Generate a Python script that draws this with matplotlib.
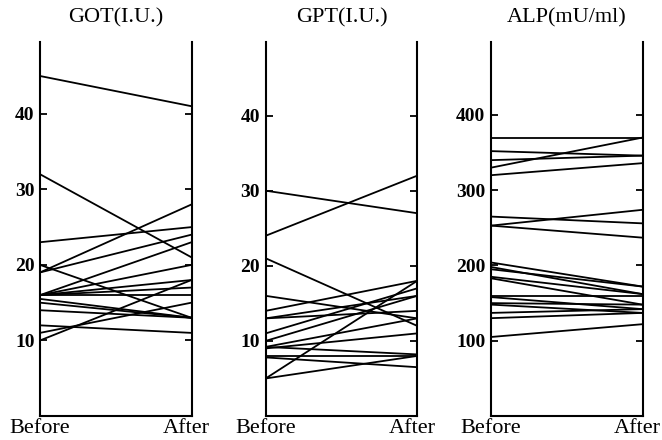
import matplotlib
matplotlib.use("Agg")
import matplotlib.pyplot as plt
import matplotlib.transforms as mtransforms

titles = ["GOT(I.U.)", "GPT(I.U.)", "ALP(mU/ml)"]
x_labels = ["Before", "After"]

got_before = [45, 32, 23, 19, 19, 20, 16, 16, 16, 16, 16, 15.5, 15, 14, 12, 11, 10]
got_after = [41, 21, 25, 28, 24, 13, 23, 20, 18, 17, 16, 13, 13, 13, 11, 15, 18]

gpt_before = [30, 24, 21, 16, 14, 13, 13, 11, 10, 9.2, 9, 9.2, 8, 7.8, 5, 5]
gpt_after = [27, 32, 12, 13, 18, 16, 14, 17, 16, 13, 11, 8.2, 8, 6.5, 18, 8]

alp_before = [370, 330, 352, 340, 320, 265, 253, 253, 204, 198, 195, 185, 183,
              160, 158, 150, 148, 137, 130, 105]
alp_after = [370, 370, 346, 346, 336, 256, 274, 237, 172, 162, 172, 162, 148,
             160, 142, 148, 137, 142, 137, 122]

got_ticks = [10, 20, 30, 40]
gpt_ticks = [10, 20, 30, 40]
alp_ticks = [100, 200, 300, 400]

panels = [
    (got_before, got_after, got_ticks, 49.5),
    (gpt_before, gpt_after, gpt_ticks, 49.8),
    (alp_before, alp_after, alp_ticks, 497),
]

W, H = 662, 440
fig = plt.figure(figsize=(W / 100, H / 100), dpi=100)
lefts = [40, 265.7, 491]
width = 151.5
bottom = 416
top = 42
serif = "Liberation Serif"

for (before, after, ticks, ytop), left, title in zip(panels, lefts, titles):
    ax = fig.add_axes([left / W, (H - bottom) / H, width / W, (bottom - top) / H])
    for b, a in zip(before, after):
        ax.plot([0, 1], [b, a], color="black", lw=1.3, solid_capstyle="butt")
    ax.set_xlim(0, 1)
    ax.set_ylim(0, ytop)
    ax.spines["top"].set_visible(False)
    for s in ["left", "right", "bottom"]:
        ax.spines[s].set_linewidth(1.5)
    ax.set_yticks(ticks)
    ax.set_yticklabels([str(t) for t in ticks], fontfamily=serif,
                       fontweight="bold", fontsize=14)
    ax.tick_params(axis="y", direction="in", length=5, width=1.3,
                   right=True, labelright=False, pad=4)
    ax.set_xticks([0, 1])
    ax.set_xticklabels(x_labels, fontfamily=serif, fontsize=16)
    ax.tick_params(axis="x", length=0, pad=2)
    after_lbl = ax.get_xticklabels()[1]
    after_lbl.set_transform(after_lbl.get_transform() +
                            mtransforms.ScaledTranslation(-5 / 100, 0, fig.dpi_scale_trans))
    fig.text((left + width / 2) / W, (H - 18) / H, title, ha="center",
             va="center", fontfamily=serif, fontsize=16)

fig.savefig("out.png", dpi=100)
